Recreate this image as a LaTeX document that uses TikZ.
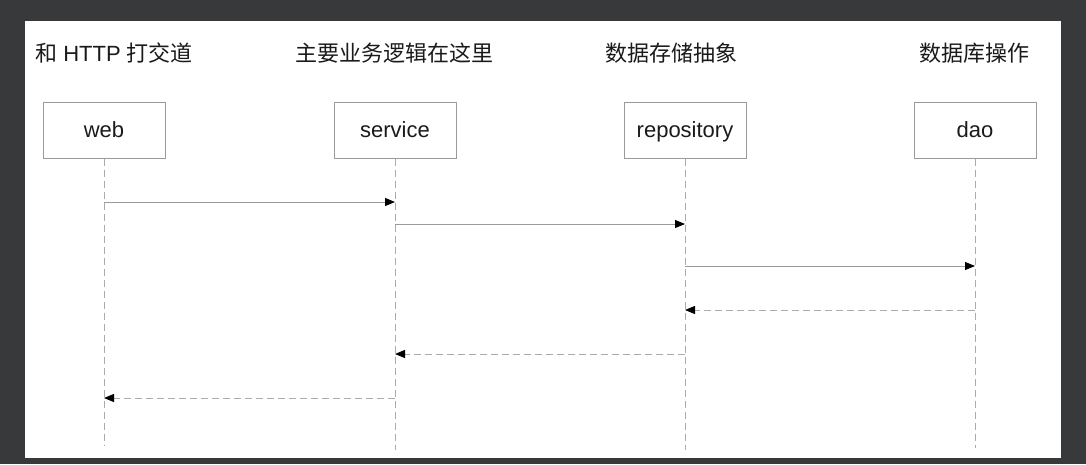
\documentclass[tikz,border=0pt]{standalone}
\usepackage{fontspec}
\setmainfont{Liberation Sans}
\newfontfamily\cjk{Noto Sans CJK SC}
\usetikzlibrary{arrows.meta}
\definecolor{bgdark}{HTML}{37393B}
\definecolor{linegray}{HTML}{9A9A9A}
\definecolor{dashgray}{HTML}{ABABAB}
\definecolor{txt}{HTML}{1A1A1A}
\tikzset{
  actor/.style={draw=linegray, line width=1pt, fill=white, minimum width=122pt, minimum height=56pt, inner sep=0pt, text height=18pt, text depth=4pt, font=\fontsize{22}{26}\selectfont, text=txt},
  title/.style={font=\fontsize{22}{26}\selectfont, text=txt, inner sep=0pt},
  lifeline/.style={draw=dashgray, line width=1pt, dash pattern=on 7pt off 4pt},
  callarrow/.style={draw=linegray, line width=1pt, -{Triangle[length=10pt,width=8pt,color=black]}},
  retarrow/.style={draw=dashgray, line width=1pt, dash pattern=on 7pt off 4pt, -{Triangle[length=10pt,width=8pt,color=black]}}
}
\begin{document}
\begin{tikzpicture}[x=1pt,y=-1pt]
\useasboundingbox (0,0) rectangle (1086,464);
\fill[bgdark] (0,0) rectangle (1086,464);
\fill[white] (25,21) rectangle (1061,458);

\node[title, anchor=west] (t1) at (35,53) {{\cjk 和} HTTP {\cjk 打交道}};
\node[title] (t2) at (394,53) {\cjk 主要业务逻辑在这里};
\node[title] (t3) at (671,53) {\cjk 数据存储抽象};
\node[title] (t4) at (974,53) {\cjk 数据库操作};

\node[actor] (web) at (104,130) {web};
\node[actor] (svc) at (395,130) {service};
\node[actor] (repo) at (685,130) {repository};
\node[actor] (dao) at (975,130) {dao};

\coordinate (webEnd) at (104,446);
\coordinate (svcEnd) at (395,450);
\coordinate (repoEnd) at (685,450);
\coordinate (daoEnd) at (975,448);
\draw[lifeline] (web.south) -- (webEnd);
\draw[lifeline] (svc.south) -- (svcEnd);
\draw[lifeline] (repo.south) -- (repoEnd);
\draw[lifeline] (dao.south) -- (daoEnd);

\coordinate (w1) at (104,202); \coordinate (s1) at (395,202);
\coordinate (s2) at (395,224); \coordinate (r2) at (685,224);
\coordinate (r3) at (685,266); \coordinate (d3) at (975,266);
\coordinate (d4) at (975,310); \coordinate (r4) at (685,310);
\coordinate (r5) at (685,354); \coordinate (s5) at (395,354);
\coordinate (s6) at (395,398); \coordinate (w6) at (104,398);

\draw[callarrow] (w1) -- (s1);
\draw[callarrow] (s2) -- (r2);
\draw[callarrow] (r3) -- (d3);
\draw[retarrow] (d4) -- (r4);
\draw[retarrow] (r5) -- (s5);
\draw[retarrow] (s6) -- (w6);
\end{tikzpicture}
\end{document}
